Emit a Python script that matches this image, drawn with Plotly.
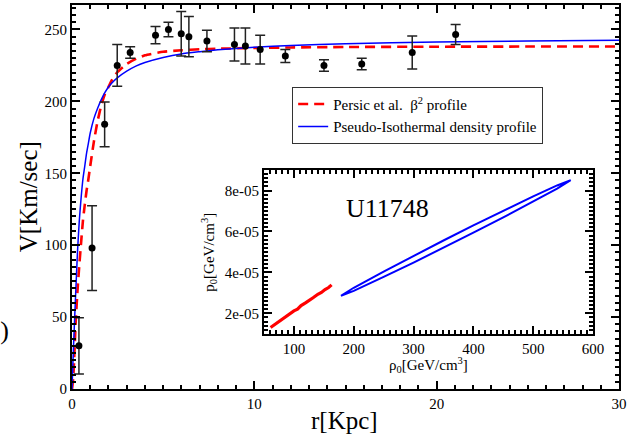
import plotly.graph_objects as go

# ---------------- data ----------------
r_obs = [0.38, 1.10, 1.79, 2.48, 3.19, 4.58, 5.29, 5.99, 6.41, 7.40, 8.91, 9.51, 10.32, 11.70, 13.82, 15.89, 18.66, 21.04]
v_obs = [30, 98, 184, 225, 234, 246, 250, 247, 245, 242, 239.5, 238.5, 236, 231.5, 225, 226, 234, 246.5]
v_err = [19.5, 29.5, 15.5, 14.5, 4, 6, 5, 15.5, 14, 7.5, 11.5, 12.5, 10, 4.5, 4, 4, 11.5, 7]

r_curve = [0, 0.05, 0.1, 0.2, 0.3, 0.4, 0.5, 0.6, 0.7, 0.8, 0.9, 1.0, 1.2, 1.4, 1.6, 1.8, 2.0, 2.2,
           2.5, 3, 3.5, 4, 5, 6, 7, 8, 10, 12, 15, 20, 25, 30]
v_iso = [0, 18, 35, 66, 95, 117, 133, 146, 155, 164, 171, 178, 188, 195, 201, 206, 210, 213,
         216.5, 221, 224.5, 227, 230.5, 233, 234.5, 235.8, 237.7, 238.8, 240.1, 241.3, 242, 242.5]
v_persic = [0, 5, 15, 46, 68, 86, 102, 117, 128, 138, 146, 155, 172, 186, 197, 205, 210, 215,
            220.5, 226, 229.5, 232, 234.5, 235.5, 236.2, 236.6, 237.1, 237.5, 237.8, 238, 238.1, 238.2]

# inset: confidence regions (rho0 vs p0)
red_x = [61, 66, 72, 80, 86, 92, 100, 106, 112, 120, 126, 132, 140, 146, 152, 158, 163]
red_y = [1.31e-5, 1.41e-5, 1.55e-5, 1.70e-5, 1.85e-5, 1.93e-5, 2.12e-5, 2.20e-5, 2.38e-5, 2.52e-5,
         2.66e-5, 2.76e-5, 2.93e-5, 3.02e-5, 3.16e-5, 3.26e-5, 3.39e-5]

blue_x = [178.6, 200, 250, 300, 350, 400, 450, 500, 540, 562.7,
          540, 500, 450, 400, 350, 300, 250, 200, 178.6]
blue_y = [2.86e-5, 3.25e-5, 4.04e-5, 4.81e-5, 5.56e-5, 6.30e-5, 7.02e-5, 7.72e-5, 8.25e-5, 8.51e-5,
          8.10e-5, 7.46e-5, 6.69e-5, 5.94e-5, 5.20e-5, 4.48e-5, 3.78e-5, 3.10e-5, 2.86e-5]

inset_yticks = [2e-5, 4e-5, 6e-5, 8e-5]
inset_yticktext = ["2e-05", "4e-05", "6e-05", "8e-05"]

FONT = "Liberation Serif, Times New Roman, serif"

fig = go.Figure()

fig.add_trace(go.Scatter(
    x=r_curve, y=v_persic, mode="lines", line=dict(color="#ff0000", width=2.6, dash="10px,6px", shape="spline", smoothing=0.5),
    name="Persic et al.  β<sup>2</sup> profile"))
fig.add_trace(go.Scatter(
    x=r_curve, y=v_iso, mode="lines", line=dict(color="#0000ff", width=1.5, shape="spline", smoothing=0.5),
    name="Pseudo-Isothermal density profile"))
fig.add_trace(go.Scatter(
    x=r_obs, y=v_obs, mode="markers", showlegend=False,
    marker=dict(color="black", size=7),
    error_y=dict(type="data", array=v_err, color="#222222", thickness=1.5, width=5)))

# inset traces
fig.add_trace(go.Scatter(x=red_x, y=red_y, mode="lines", xaxis="x2", yaxis="y2", showlegend=False,
                         line=dict(color="#ff0000", width=3.2)))
fig.add_trace(go.Scatter(x=blue_x, y=blue_y, mode="lines", xaxis="x2", yaxis="y2", showlegend=False,
                         line=dict(color="#0000ff", width=2)))

axis_common = dict(showgrid=False, zeroline=False, showline=True, linecolor="black", linewidth=2,
                   ticks="inside", tickcolor="black", tickwidth=1.5, mirror="allticks",
                   tickfont=dict(family=FONT, size=15, color="black"))

fig.update_layout(
    width=638, height=437,
    margin=dict(l=72, r=19, t=3, b=48),
    paper_bgcolor="white", plot_bgcolor="white",
    font=dict(family=FONT, color="black"),
    xaxis=dict(range=[0, 30], dtick=10, ticklen=8,
               minor=dict(dtick=1, ticks="inside", ticklen=4, tickcolor="black"), **axis_common),
    yaxis=dict(range=[0, 267], dtick=50, ticklen=8,
               minor=dict(dtick=5, ticks="inside", ticklen=4, tickcolor="black"), **axis_common),
    xaxis2=dict(domain=[0.351, 0.9525], anchor="y2", range=[50, 600], dtick=100, ticklen=8,
                minor=dict(dtick=10, ticks="inside", ticklen=4, tickcolor="black"), **axis_common),
    yaxis2=dict(domain=[0.1438, 0.570], anchor="x2", range=[1e-5, 9e-5],
                tickvals=inset_yticks, ticktext=inset_yticktext, ticklen=8,
                minor=dict(dtick=2e-6, ticks="inside", ticklen=4, tickcolor="black"), **axis_common),
    legend=dict(x=0.4025, y=0.787, xanchor="left", yanchor="top",
                bgcolor="white", bordercolor="#333333", borderwidth=1,
                font=dict(family=FONT, size=15, color="black"),
                tracegroupgap=0),
    annotations=[
        dict(text="V[Km/sec]", xref="paper", yref="paper", x=-0.08, y=0.5,
             xanchor="center", yanchor="middle", textangle=-90, showarrow=False,
             font=dict(family=FONT, size=25, color="black")),
        dict(text="r[Kpc]", xref="paper", yref="paper", x=0.499, y=-0.083,
             xanchor="center", yanchor="middle", showarrow=False,
             font=dict(family=FONT, size=25, color="black")),
        dict(text="(c)", xref="paper", yref="paper", x=-0.112, y=0.153,
             xanchor="right", yanchor="middle", showarrow=False,
             font=dict(family=FONT, size=26, color="black")),
        dict(text="U11748", xref="paper", yref="paper", x=0.577, y=0.471,
             xanchor="center", yanchor="middle", showarrow=False,
             font=dict(family=FONT, size=26, color="black")),
        dict(text="ρ<sub>0</sub>[GeV/cm<sup>3</sup>]", xref="paper", yref="paper", x=0.652, y=0.062,
             xanchor="center", yanchor="middle", showarrow=False,
             font=dict(family=FONT, size=15, color="black")),
        dict(text="p<sub>0</sub>[GeV/cm<sup>3</sup>]", xref="paper", yref="paper", x=0.250, y=0.357,
             xanchor="center", yanchor="middle", textangle=-90, showarrow=False,
             font=dict(family=FONT, size=15, color="black")),
    ],
)

fig.write_html("out.html")
